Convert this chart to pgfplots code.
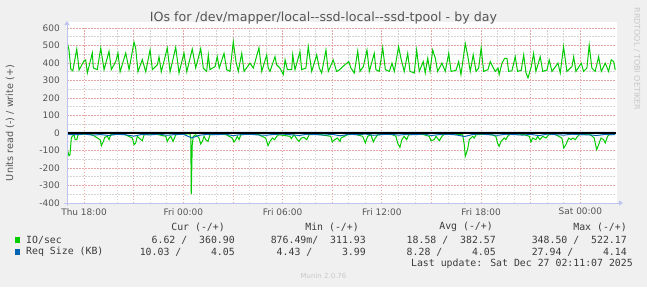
\documentclass[border=0pt]{standalone}
\usepackage{pgfplots}
\pgfplotsset{compat=1.18}
\usepackage{fontspec}
\setmainfont{DejaVu Sans}
\newfontfamily\mono{DejaVu Sans Mono}
\usetikzlibrary{arrows.meta}
\definecolor{bgc}{HTML}{F0F0F0}
\definecolor{mgreen}{HTML}{00CC00}
\definecolor{mblue}{HTML}{0066B3}
\definecolor{axc}{RGB}{190,195,240}
\definecolor{majg}{RGB}{232,165,165}
\definecolor{ming}{RGB}{212,212,212}
\definecolor{txt}{RGB}{85,85,85}
\definecolor{ltxt}{RGB}{60,60,60}
\definecolor{faint}{RGB}{200,200,200}
\begin{document}
\begin{tikzpicture}[x=1bp,y=1bp]
\fill[bgc] (0,0) rectangle (647,287);
\fill[white] (67,84) rectangle (617,265);
\begin{axis}[at={(67bp,84bp)}, anchor=south west, scale only axis,
  width=549bp, height=175bp,
  xmin=-1.03, xmax=32.15, ymin=-400, ymax=600,
  axis line style={draw=none},
  xtick={0,3,...,30},
  xticklabels={Thu 18:00,,Fri 00:00,,Fri 06:00,,Fri 12:00,,Fri 18:00,,Sat 00:00},
  minor x tick num=2,
  ytick={-400,-300,...,600}, minor y tick num=1,
  xmajorgrids, xminorgrids, ymajorgrids, yminorgrids,
  major grid style={majg, line width=0.9bp, dash pattern=on 1.5bp off 1.5bp},
  minor grid style={ming, line width=0.9bp, dash pattern=on 1.5bp off 1.5bp},
  major tick length=0pt, minor tick length=0pt,
  ticklabel style={font=\fontsize{9}{10}\selectfont, text=txt},
  /pgf/number format/assume math mode=true,
  yticklabel style={inner sep=0pt, xshift=-7bp},
  xticklabel style={inner sep=0pt, anchor=north, yshift=-5bp},
  clip=true,
]
% IO/sec write (+)
\addplot[mgreen, line width=1bp] coordinates {
(-1.03,420)(-1.01,513)(-0.91,475)(-0.80,365)(-0.68,355)(-0.44,480)(-0.30,360)
(0.00,413)(0.10,418)(0.20,343)(0.50,457)(0.56,372)(0.80,362)(1.01,485)(1.21,362)
(1.51,466)(1.65,362)(1.92,410)(2.05,457)(2.18,350)(2.52,457)(2.72,362)(3.02,519)
(3.12,485)(3.26,350)(3.52,419)(3.73,350)(3.99,475)(4.13,362)(4.43,390)(4.53,435)
(4.67,350)(5.03,485)(5.20,350)(5.54,490)(5.74,343)(6.04,457)(6.21,350)(6.54,480)
(6.75,372)(7.05,482)(7.21,370)(7.41,352)(7.51,446)(7.61,362)(7.92,380)(8.05,436)
(8.17,371)(8.46,455)(8.62,362)(8.82,352)(9.02,521)(9.18,408)(9.32,352)(9.53,455)
(9.67,352)(10.03,399)(10.23,371)(10.57,487)(10.74,352)(11.04,446)(11.13,371)
(11.24,352)(11.54,436)(11.64,390)(11.84,371)(12.04,334)(12.15,418)(12.29,362)
(12.55,362)(12.61,446)(12.75,362)(13.05,464)(13.15,362)(13.41,371)(13.55,493)
(13.76,352)(14.06,446)(14.22,371)(14.36,343)(14.62,474)(14.76,352)(15.06,418)
(15.26,352)(15.43,360)(15.64,380)(16.00,408)(16.13,371)(16.33,343)(16.54,468)
(16.68,352)(16.88,380)(17.10,474)(17.24,352)(17.54,455)(17.64,362)(17.84,352)
(18.05,487)(18.21,362)(18.45,352)(18.61,399)(18.75,352)(19.01,493)(19.15,427)
(19.35,352)(19.56,455)(19.70,352)(19.96,343)(20.10,474)(20.26,352)(20.50,408)
(20.62,343)(20.77,427)(20.91,352)(21.07,474)(21.23,427)(21.37,352)(21.63,399)
(21.83,352)(22.04,455)(22.18,352)(22.48,358)(22.64,408)(22.78,334)(23.04,511)
(23.18,446)(23.34,352)(23.52,446)(23.69,352)(23.85,371)(24.00,487)(24.15,352)
(24.41,362)(24.55,408)(24.69,380)(24.85,352)(25.02,371)(25.09,334)(25.26,399)
(25.42,427)(25.56,427)(25.66,352)(25.86,356)(26.06,436)(26.20,352)(26.42,358)
(26.57,446)(26.71,343)(26.83,315)(27.03,380)(27.17,455)(27.31,352)(27.57,436)
(27.72,352)(27.98,360)(28.11,418)(28.28,352)(28.64,399)(28.78,343)(28.98,493)
(29.18,352)(29.49,380)(29.59,436)(29.73,352)(30.05,399)(30.19,352)(30.39,371)
(30.53,502)(30.69,371)(30.89,352)(31.10,436)(31.26,352)(31.50,399)(31.70,352)
(31.86,418)(32.01,408)(32.10,361)
};
% IO/sec read (-)
\addplot[mgreen, line width=1bp] coordinates {
(-1.03,-8)(-1.01,-95)(-0.91,-130)(-0.85,-124)(-0.77,-29)(-0.71,-19)(-0.60,-10)
(-0.54,-38)(-0.44,-38)(-0.36,-10)(0.06,-6)(0.48,-9)(0.97,-38)(1.05,-72)(1.17,-48)
(1.25,-25)(1.41,-19)(1.51,-38)(1.61,-10)(2.05,-7)(2.48,-9)(2.92,-29)(3.02,-67)
(3.12,-57)(3.22,-19)(3.43,-38)(3.52,-44)(3.63,-10)(3.99,-6)(4.41,-8)(4.94,-19)
(5.03,-48)(5.14,-29)(5.24,-19)(5.38,-48)(5.54,-10)(5.92,-7)(6.40,-5)(6.45,-29)
(6.48,-348)(6.54,-67)(6.60,-19)(6.75,-10)(6.95,-29)(7.05,-63)(7.15,-48)(7.25,-19)
(7.35,-38)(7.49,-48)(7.61,-10)(8.10,-7)(8.58,-9)(8.96,-29)(9.06,-51)(9.17,-38)
(9.26,-19)(9.37,-38)(9.47,-10)(10.03,-6)(10.51,-8)(10.98,-29)(11.12,-72)(11.24,-48)
(11.38,-29)(11.52,-38)(11.64,-19)(11.78,-10)(12.45,-19)(12.53,-32)(12.69,-10)
(12.89,-38)(12.99,-48)(13.13,-29)(13.29,-25)(13.46,-38)(13.60,-10)(14.14,-7)
(14.91,-19)(15.00,-51)(15.15,-38)(15.31,-29)(15.47,-48)(15.53,-29)(15.73,-19)
(15.93,-10)(16.37,-7)(16.84,-19)(17.00,-57)(17.14,-19)(17.34,-10)(17.48,-51)
(17.60,-29)(17.75,-10)(18.19,-7)(18.61,-9)(18.85,-19)(18.95,-57)(19.09,-82)
(19.21,-38)(19.35,-19)(19.50,-38)(19.62,-10)(20.06,-7)(20.48,-8)(20.86,-19)
(20.97,-44)(21.17,-38)(21.27,-19)(21.47,-44)(21.63,-19)(21.75,-8)(22.24,-6)
(22.66,-8)(22.88,-10)(22.98,-67)(23.04,-133)(23.18,-95)(23.28,-38)(23.38,-29)
(23.49,-19)(23.58,-29)(23.69,-10)(24.17,-7)(24.59,-8)(24.89,-19)(24.99,-57)
(25.09,-76)(25.20,-48)(25.40,-29)(25.50,-38)(25.60,-19)(25.74,-8)(26.22,-6)
(26.59,-9)(26.91,-19)(27.01,-51)(27.11,-29)(27.31,-38)(27.41,-19)(27.55,-38)
(27.72,-19)(27.92,-29)(28.08,-10)(28.46,-7)(28.88,-29)(28.99,-86)(29.12,-67)
(29.29,-29)(29.43,-38)(29.53,-29)(29.69,-38)(29.83,-19)(29.93,-10)(30.27,-8)
(30.57,-6)(30.83,-29)(30.98,-95)(31.10,-67)(31.24,-29)(31.40,-38)(31.50,-57)
(31.64,-19)(31.74,-10)(32.10,-7)
};
% Req size read (-)
\addplot[mblue, line width=1bp] coordinates {
(-1.03,-8)(-0.5,-10)(0,-6)(0.5,-12)(1.0,-9)(1.5,-14)(2.0,-7)(2.5,-10)(3.0,-18)
(3.5,-8)(4.0,-11)(4.5,-6)(5.0,-13)(5.5,-9)(6.0,-7)(6.5,-28)(7.0,-12)(7.5,-8)
(8.0,-10)(8.5,-6)(9.0,-15)(9.5,-9)(10.0,-7)(10.5,-11)(11.0,-13)(11.5,-8)(12.0,-6)
(12.5,-10)(13.0,-14)(13.5,-7)(14.0,-9)(14.5,-12)(15.0,-8)(15.5,-16)(16.0,-7)
(16.5,-10)(17.0,-6)(17.5,-13)(18.0,-9)(18.5,-7)(19.0,-12)(19.5,-8)(20.0,-10)
(20.5,-6)(21.0,-14)(21.5,-9)(22.0,-7)(22.5,-11)(23.0,-20)(23.5,-8)(24.0,-6)
(24.5,-10)(25.0,-13)(25.5,-7)(26.0,-9)(26.5,-12)(27.0,-8)(27.5,-15)(28.0,-6)
(28.5,-10)(29.0,-12)(29.5,-7)(30.0,-9)(30.5,-11)(31.0,-14)(31.5,-8)(32.1,-10)
};
% Req size write (+)
\addplot[mblue, line width=1bp] coordinates {
(-1.03,4.05)(4,4.0)(8,4.1)(12,4.0)(16,4.05)(20,4.1)(24,4.0)(28,4.05)(32.1,4.05)
};
% zero line
\addplot[black, line width=1.2bp] coordinates {(-1.03,0)(32.15,0)};
\end{axis}
% axis lines with arrows
\draw[axc, line width=1bp, -{Triangle[width=5bp,length=4bp]}] (64,84) -- (623,84);
\draw[axc, line width=1bp, -{Triangle[width=5bp,length=4bp]}] (67,81) -- (67,266);
% title and labels
\node[text=txt, font=\fontsize{12.7}{14}\selectfont] at (323.5,269)
  {IOs for /dev/mapper/local-{}-ssd-local-{}-ssd-tpool - by day};
\node[rotate=90, text=txt, font=\fontsize{9.7}{11}\selectfont] at (10,164)
  {Units read (-) / write (+)};
\node[rotate=-90, text=faint, font=\fontsize{8}{9}\selectfont, anchor=west] at (637,283)
  {RRDTOOL / TOBI OETIKER};
% legend
\begin{scope}[every node/.style={inner sep=0pt, text=ltxt, font=\mono\fontsize{9.9}{11}\selectfont}]
\node[anchor=east] at (225,59.7) {Cur (-/+)};
\node[anchor=east] at (359,59.7) {Min (-/+)};
\node[anchor=east] at (493,59.7) {Avg (-/+)};
\node[anchor=east] at (627,59.7) {Max (-/+)};
\fill[mgreen] (14.5,44) rectangle (20,50);
\node[anchor=west] at (26,47) {IO/sec};
\node[anchor=east] at (235,47) {6.62 /~~360.90};
\node[anchor=east] at (366,47) {876.49m/~~311.93};
\node[anchor=east] at (496,47) {18.58 /~~382.57};
\node[anchor=east] at (627,47) {348.50 /~~522.17};
\fill[mblue] (14.5,32) rectangle (20,38);
\node[anchor=west] at (26,35) {Req Size (KB)};
\node[anchor=east] at (235,35) {10.03 /~~~~~4.05};
\node[anchor=east] at (366,35) {4.43 /~~~~~3.99};
\node[anchor=east] at (496,35) {8.28 /~~~~~4.05};
\node[anchor=east] at (627,35) {27.94 /~~~~~4.14};
\node[anchor=east] at (633,23.7) {Last update: Sat Dec 27 02:11:07 2025};
\end{scope}
\node[text=faint, font=\fontsize{7}{8}\selectfont] at (323.5,11) {Munin 2.0.76};
\pgfresetboundingbox
\path[use as bounding box] (0,0) rectangle (647,287);
\end{tikzpicture}
\end{document}
